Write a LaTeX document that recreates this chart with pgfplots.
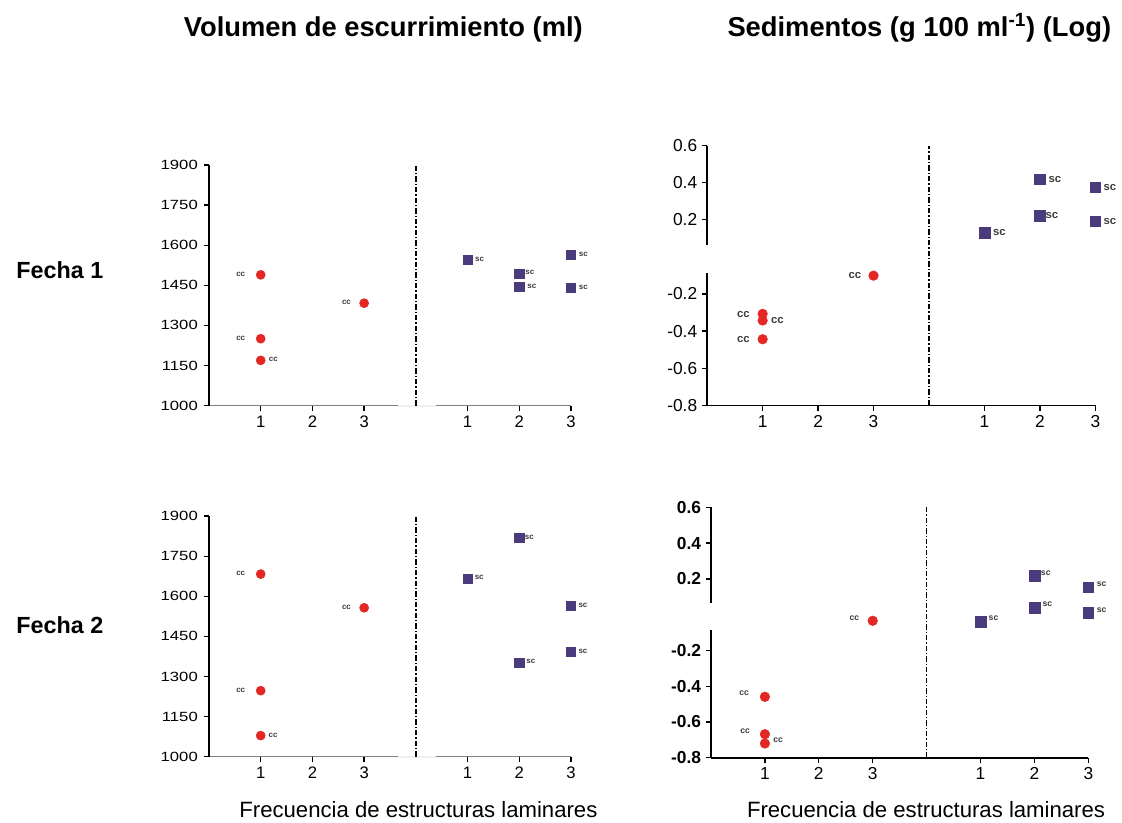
\documentclass[border=0pt]{standalone}
\usepackage{pgfplots}
\pgfplotsset{compat=1.18}
\usepackage{fontspec}
\setmainfont{Liberation Sans}

\definecolor{ccred}{RGB}{228,38,36}
\definecolor{scblue}{RGB}{74,60,124}
\definecolor{lblgray}{RGB}{60,60,60}

\tikzset{sep/.style={black, line width=1pt, dash pattern=on 4pt off 1.5pt on 1pt off 1.5pt}}

% shared look of the four panels
\pgfplotsset{
  panel/.style={
    scale only axis, anchor=south west, clip=false,
    axis lines=left, axis line style={-, line width=1.1pt},
    tick align=outside, major tick length=4pt,
    tick style={black, line width=1pt},
    xmin=0, xmax=7,
    xtick={1,2,3,5,6,7}, xticklabels={1,2,3,1,2,3},
    /pgf/number format/assume math mode=true,
    /pgf/number format/1000 sep={},
    scaled y ticks=false,
  },
  logpanel/.style={panel,
    ymin=-0.8, ymax=0.6, ytick={-0.8,-0.6,-0.4,-0.2,0.2,0.4,0.6},
    yticklabels={-0.8,-0.6,-0.4,-0.2,0.2,0.4,0.6}},
  cc/.style={only marks, mark=*, color=ccred, nodes near coords={cc},
    visualization depends on={\thisrow{dx} \as \mydx},
    visualization depends on={\thisrow{dy} \as \mydy},
    every node near coord/.append style={anchor=center, text=lblgray,
      xshift=\mydx pt, yshift=\mydy pt, inner sep=0pt}},
  sc/.style={cc, mark=square*, color=scblue, nodes near coords={sc}},
}

\begin{document}
\begin{tikzpicture}
\useasboundingbox (0,0) rectangle (841.5pt,617.25pt);

% ---- titles and row labels
\node[anchor=base, font=\fontsize{20.5}{24}\selectfont\bfseries] at (287.5pt,589.7pt) {Volumen de escurrimiento (ml)};
\node[anchor=base, font=\fontsize{20.5}{24}\selectfont\bfseries] at (689.5pt,589.7pt) {Sedimentos (g 100 ml\textsuperscript{-1}) (Log)};
\node[anchor=base west, font=\fontsize{17.5}{20}\selectfont\bfseries] at (8.8pt,408pt) {Fecha 1};
\node[anchor=base west, font=\fontsize{17.5}{20}\selectfont\bfseries] at (8.8pt,141.75pt) {Fecha 2};
\node[anchor=base, font=\fontsize{16.6}{19}\selectfont] at (313.8pt,3.75pt) {Frecuencia de estructuras laminares};
\node[anchor=base, font=\fontsize{16.6}{19}\selectfont] at (694.5pt,3.75pt) {Frecuencia de estructuras laminares};

% ---- Fecha 1, volumen
\begin{axis}[panel, at={(156.75pt,313.1pt)}, width=271.5pt, height=180.4pt,
  ymin=1000, ymax=1900, ytick={1000,1150,...,1900},
  x axis line style={gray}, 
  yticklabel style={font=\fontsize{10}{12}\selectfont, xscale=1.25},
  xticklabel style={font=\fontsize{12.5}{14}\selectfont},
  every node near coord/.append style={font=\fontsize{6}{7}\selectfont\bfseries}]
\addplot[cc, mark size=3.4pt] table {
x y dx dy
1 1489 -15 0.5
1 1250 -15 0.5
1 1169 9.5 0.5
3 1383 -13.25 0.5
};
\addplot[sc, mark size=3.4pt] table {
x y dx dy
5 1544 9 0.5
6 1494 8 0.5
6 1444 9.5 0.5
7 1563 9.25 0.5
7 1440 9.25 0.5
};
\draw[gray!12, line width=1.5pt] (axis cs:3.65,1000) -- (axis cs:4.39,1000);
\draw[sep] (axis cs:4,1000) -- (axis cs:4,1900);
\end{axis}

% ---- Fecha 2, volumen
\begin{axis}[panel, at={(156.75pt,49.7pt)}, width=271.5pt, height=180.5pt,
  ymin=1000, ymax=1900, ytick={1000,1150,...,1900},
  x axis line style={gray},
  yticklabel style={font=\fontsize{10}{12}\selectfont, xscale=1.25},
  xticklabel style={font=\fontsize{12.5}{14}\selectfont},
  every node near coord/.append style={font=\fontsize{6}{7}\selectfont\bfseries}]
\addplot[cc, mark size=3.4pt] table {
x y dx dy
1 1683 -15 0.5
1 1247 -15 0.5
1 1079 9.25 0.5
3 1557 -13.25 0.5
};
\addplot[sc, mark size=3.4pt] table {
x y dx dy
5 1667 8.75 0.5
6 1819 7.5 0.5
6 1353 8.75 0.5
7 1563 9 0.5
7 1393 9 0.5
};
\draw[gray!12, line width=1.5pt] (axis cs:3.65,1000) -- (axis cs:4.39,1000);
\draw[sep] (axis cs:4,1000) -- (axis cs:4,1900);
\end{axis}

% ---- Fecha 1, sedimentos
\begin{axis}[logpanel, at={(530.4pt,313.3pt)}, width=291.1pt, height=194.7pt,
  ticklabel style={font=\fontsize{13}{15}\selectfont},
  every node near coord/.append style={font=\fontsize{8.5}{10}\selectfont\bfseries}]
\addplot[cc, mark size=3.6pt] table {
x y dx dy
1 -0.307 -14.5 -0.5
1 -0.343 11 0
1 -0.444 -14.5 0
3 -0.101 -14 0
};
\addplot[sc, mark size=4pt] table {
x y dx dy
5 0.129 11.25 0
6 0.419 11.25 0
6 0.221 9 0
7 0.376 11 0
7 0.192 11 0
};
\draw[white, line width=3pt] (axis cs:0,-0.088) -- (axis cs:0,0.065);
\draw[sep] (axis cs:4,-0.8) -- (axis cs:4,0.6);
\end{axis}

% ---- Fecha 2, sedimentos
\begin{axis}[logpanel, at={(533.25pt,48.9pt)}, width=283pt, height=187.8pt,
  yticklabel style={font=\fontsize{13}{15}\selectfont\bfseries},
  xticklabel style={font=\fontsize{13}{15}\selectfont},
  every node near coord/.append style={font=\fontsize{6.5}{8}\selectfont\bfseries}]
\addplot[cc, mark size=3.6pt] table {
x y dx dy
1 -0.459 -15.5 3
1 -0.668 -14.8 2.5
1 -0.720 10 2.5
3 -0.034 -13.75 2.25
};
\addplot[sc, mark size=4pt] table {
x y dx dy
5 -0.038 9.75 2.5
6 0.218 8.5 2
6 0.039 9.75 2.5
7 0.154 10 2.5
7 0.009 10 2
};
\draw[white, line width=3pt] (axis cs:0,-0.086) -- (axis cs:0,0.063);
\draw[sep] (axis cs:4,-0.8) -- (axis cs:4,0.6);
\end{axis}
\end{tikzpicture}
\end{document}
